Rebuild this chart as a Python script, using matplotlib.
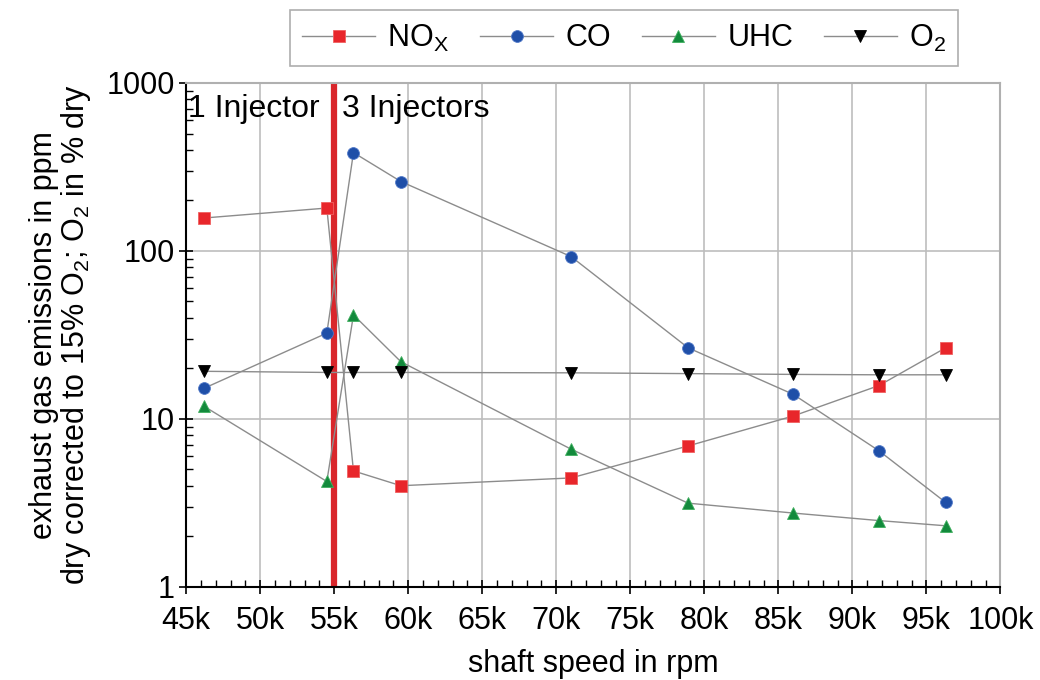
import matplotlib.pyplot as plt
from matplotlib.ticker import MultipleLocator, LogLocator, NullFormatter
import numpy as np

plt.rcParams['font.family'] = ['Liberation Sans', 'DejaVu Sans']

# shaft speed in rpm
speed = [46.2e3, 54.5e3, 56.3e3, 59.5e3, 71.0e3, 78.9e3, 86.0e3, 91.8e3, 96.3e3]
nox = [157, 180, 4.9, 4.0, 4.45, 6.9, 10.4, 15.8, 26.5]
co = [15.2, 32.4, 385, 259, 92.5, 26.5, 14.0, 6.45, 3.18]
uhc = [11.9, 4.24, 41.6, 21.9, 6.6, 3.15, 2.75, 2.48, 2.31]
o2 = [19.2, 18.9, 18.9, 18.9, 18.8, 18.6, 18.4, 18.3, 18.3]
switch_speed = 55e3

xticks = np.arange(45e3, 100001, 5e3)
xticklabels = ["%dk" % (v / 1000) for v in xticks]

fs = 22

fig = plt.figure(figsize=(10.4, 6.8), dpi=100)
ax = fig.add_axes([0.179, 0.137, 0.783, 0.741])

line_kw = dict(color='#8c8c8c', lw=1.0, markersize=8.5, markeredgewidth=0.6)
ax.plot(speed, nox, marker='s', mfc='#e8262b', mec='#f06060', label=r'NO$_\mathregular{X}$', **line_kw)
ax.plot(speed, co, marker='o', mfc='#1f4fa8', mec='#5078c8', label='CO', **line_kw)
ax.plot(speed, uhc, marker='^', mfc='#138a3c', mec='#40b060', label='UHC', **line_kw)
ax.plot(speed, o2, marker='v', mfc='black', mec='black', label=r'O$_\mathregular{2}$', **line_kw)

ax.axvline(switch_speed, color='#d9262b', lw=4.5, zorder=1)
ax.text(45.1e3, 700, '1 Injector', fontsize=23, va='center', ha='left')
ax.text(55.5e3, 700, '3 Injectors', fontsize=23, va='center', ha='left')

ax.set_yscale('log')
ax.set_ylim(1, 1000)
ax.set_xlim(45e3, 100e3)
ax.set_xticks(xticks)
ax.set_xticklabels(xticklabels)
ax.xaxis.set_minor_locator(MultipleLocator(1e3))
ax.set_yticks([1, 10, 100, 1000])
ax.set_yticklabels(['1', '10', '100', '1000'])
ax.yaxis.set_minor_locator(LogLocator(base=10, subs=np.arange(2, 10)))
ax.yaxis.set_minor_formatter(NullFormatter())

ax.grid(True, which='major', color='#bdbdbd', lw=1.2)
ax.set_axisbelow(True)
ax.tick_params(which='major', direction='inout', length=10, width=1.2, labelsize=fs)
ax.tick_params(axis='x', which='major', pad=9)
ax.tick_params(axis='y', which='major', pad=3)
ax.tick_params(which='minor', direction='in', length=5, width=1)
for s in ['top', 'right']:
    ax.spines[s].set_color('#b0b0b0')
    ax.spines[s].set_linewidth(1.5)
for s in ['left', 'bottom']:
    ax.spines[s].set_linewidth(1.5)

ax.set_xlabel('shaft speed in rpm', fontsize=fs, labelpad=9)
ax.set_ylabel('exhaust gas emissions in ppm\n'
              r'dry corrected to 15% O$_\mathregular{2}$; O$_\mathregular{2}$ in % dry',
              fontsize=fs, labelpad=10, linespacing=1.0)

leg = fig.legend(loc='upper center', bbox_to_anchor=(0.6, 0.985), borderaxespad=0,
                 ncol=4, fontsize=fs, frameon=True, fancybox=False, edgecolor='#999999',
                 handlelength=2.4, columnspacing=1.0, handletextpad=0.4, borderpad=0.4)
leg.get_frame().set_linewidth(1.2)

fig.savefig('out.png', dpi=100)
